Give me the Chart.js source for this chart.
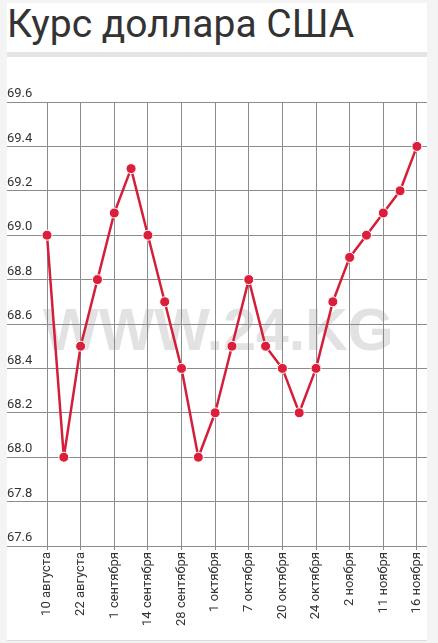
<!DOCTYPE html>
<html>
<head>
<meta charset="utf-8">
<script src="https://cdn.jsdelivr.net/npm/chart.js@4"></script>
<style>
  html, body { margin: 0; padding: 0; }
  body { width: 438px; height: 643px; background: #f4f4f4; position: relative; overflow: hidden; font-family: Roboto, sans-serif; }
  .card { position: absolute; left: 7px; top: 3px; width: 420px; height: 637px; background: #fff; border-bottom: 1px solid #dcdcdc; }
  h1 { position: absolute; left: 7px; top: 0; margin: 0; font: 400 39px/48px Roboto, sans-serif; color: #333; }
  .bar { position: absolute; left: 7px; top: 52px; width: 420px; height: 5px; background: #e5e5e5; }
  .watermark { position: absolute; left: 43px; top: 297px; font: 700 59px/66px "Liberation Sans", Arial, sans-serif; color: #e2e2e2; white-space: nowrap; }
  .wrap { position: absolute; left: 0; top: 60px; width: 438px; height: 580px; }
</style>
</head>
<body>
<div class="card"></div>
<h1>Курс доллара США</h1>
<div class="bar"></div>
<div class="watermark">WWW.24.KG</div>
<div class="wrap"><canvas id="chart"></canvas></div>
<script>
// every other point carries a date label
const tickLabels = [
  "10 августа", "22 августа", "1 сентября", "14 сентября", "28 сентября", "1 октября",
  "7 октября", "20 октября", "24 октября", "2 ноября", "11 ноября", "16 ноября",
];
const rates = [
  69.0, 68.0, 68.5, 68.8, 69.1, 69.3, 69.0, 68.7, 68.4, 68.0, 68.2, 68.5,
  68.8, 68.5, 68.4, 68.2, 68.4, 68.7, 68.9, 69.0, 69.1, 69.2, 69.4,
];
const yMin = 67.6;
const yMax = 69.6;

const gridColor = "#8c8c8c";
const textColor = "#333";

const ctx = document.getElementById("chart").getContext("2d");

new Chart(ctx, {
  type: "line",
  data: {
    datasets: [
      {
        label: "Курс доллара США",
        data: rates.map((v, i) => ({ x: i, y: v })),
        borderColor: "#d41f3b",
        borderWidth: 2.5,
        borderJoinStyle: "round", // no miter spikes at the sharp dips
        pointBackgroundColor: "#dc1e3a",
        pointBorderColor: "#fff",
        pointBorderWidth: 1,
        pointRadius: 5,
        tension: 0,
        clip: false,
      },
    ],
  },
  options: {
    responsive: true,
    maintainAspectRatio: false,
    animation: false,
    layout: { padding: { left: 7, right: 11, top: 42, bottom: 0 } },
    plugins: {
      legend: { display: false },
      tooltip: { enabled: false },
    },
    scales: {
      x: {
        type: "linear",
        min: 0,
        max: rates.length - 1 + 0.6, // grid runs a bit past the last point
        border: { display: false },
        grid: { color: gridColor, tickLength: 4 },
        ticks: {
          stepSize: 2,
          includeBounds: false,
          autoSkip: false,
          minRotation: 90,
          maxRotation: 90,
          padding: 2,
          color: textColor,
          font: { family: "Roboto", size: 13 },
          callback: (v) => tickLabels[v / 2] ?? "",
        },
        afterFit: (scale) => { scale.height = 94; },
      },
      y: {
        min: yMin,
        max: yMax,
        border: { display: false },
        grid: { color: gridColor, tickLength: 40 },
        ticks: {
          stepSize: 0.2,
          crossAlign: "far",
          labelOffset: -8,
          padding: 0,
          color: textColor,
          font: { family: "Roboto", size: 13 },
          callback: (v) => Number(v).toFixed(1),
        },
        afterFit: (scale) => { scale.width = 40; },
      },
    },
  },
});
</script>
</body>
</html>
